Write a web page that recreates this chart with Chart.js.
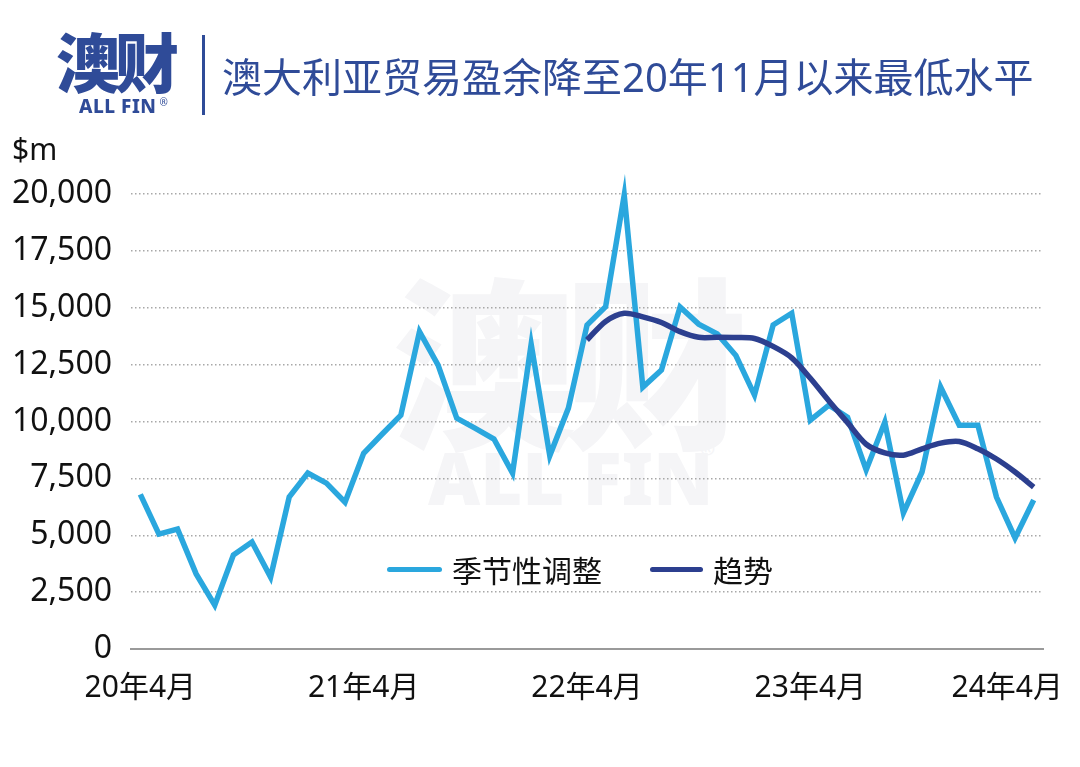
<!DOCTYPE html>
<html>
<head>
<meta charset="utf-8">
<script src="https://cdn.jsdelivr.net/npm/chart.js@4"></script>
<style>
  html, body { margin: 0; padding: 0; background: #fff; }
  body { width: 1080px; height: 767px; position: relative; overflow: hidden;
         font-family: "Noto Sans", "Noto Sans CJK SC", sans-serif; }
  .wm { position: absolute; color: #f5f5f7; font-weight: 900; font-family: "Noto Sans CJK SC", sans-serif; }
  #chartBox { position: absolute; left: 0; top: 0; width: 1080px; height: 767px; }
  .logo { position: absolute; left: 56px; top: 24px; color: #2f4b98; font-family: "Noto Sans CJK SC", sans-serif;
          font-weight: 900; font-size: 64px; line-height: 70px; letter-spacing: -5px; }
  .logo-sub { position: absolute; left: 79px; top: 93px; color: #2f4b98; font-weight: 800; font-size: 19px; letter-spacing: 0.5px; }
  .logo-sub sup { font-size: 10px; font-weight: 400; vertical-align: 7px; margin-left: 3px; }
  .divider { position: absolute; left: 202px; top: 35px; width: 3px; height: 80px; background: #2f4b98; }
  .title { position: absolute; left: 222px; top: 52px; color: #2f4b98; font-size: 40px; line-height: 50px;
           font-family: "Noto Sans", "Noto Sans CJK SC", sans-serif; white-space: nowrap; }
  .unit { position: absolute; left: 12px; top: 128px; font-size: 30px; color: #111; }
  .legend { position: absolute; top: 549px; font-size: 30px; color: #111; line-height: 40px;
            font-family: "Noto Sans CJK SC", sans-serif; white-space: nowrap; }
  .legend i { position: absolute; top: 18px; height: 5px; border-radius: 3px; }
</style>
</head>
<body>
<div class="wm" style="left:392px; top:222px; font-size:184px; letter-spacing:-12px;">澳财</div>
<div class="wm" style="left:428px; top:428px; font-size:72px; font-family:'Noto Sans',sans-serif;">ALL FIN</div>
<div class="wm" style="left:700px; top:430px; font-size:32px; font-weight:400;">®</div>

<div id="chartBox"><canvas id="chart"></canvas></div>

<div class="logo">澳财</div>
<div class="logo-sub">ALL FIN<sup>®</sup></div>
<div class="divider"></div>
<div class="title">澳大利亚贸易盈余降至20年11月以来最低水平</div>
<div class="unit">$m</div>

<div class="legend" style="left:387px;"><i style="left:0; width:55px; background:#2aa7de;"></i><span style="margin-left:65px;">季节性调整</span></div>
<div class="legend" style="left:650px;"><i style="left:0; width:53px; background:#2c3f8f;"></i><span style="margin-left:63px;">趋势</span></div>

<script>
// 2020年4月 至 2024年4月，按月
const months = [
  "20年4月", "20年5月", "20年6月", "20年7月", "20年8月", "20年9月", "20年10月", "20年11月", "20年12月",
  "21年1月", "21年2月", "21年3月", "21年4月", "21年5月", "21年6月", "21年7月", "21年8月", "21年9月",
  "21年10月", "21年11月", "21年12月", "22年1月", "22年2月", "22年3月", "22年4月", "22年5月", "22年6月",
  "22年7月", "22年8月", "22年9月", "22年10月", "22年11月", "22年12月", "23年1月", "23年2月", "23年3月",
  "23年4月", "23年5月", "23年6月", "23年7月", "23年8月", "23年9月", "23年10月", "23年11月", "23年12月",
  "24年1月", "24年2月", "24年3月", "24年4月"
];

// 季节性调整 ($m)
const seasonal = [
  6800, 5050, 5270, 3300, 1930, 4130, 4700, 3160, 6680,
  7730, 7290, 6450, 8600, 9450, 10280, 13950, 12480, 10150,
  9700, 9230, 7730, 13400, 8500, 10590, 14240, 15050, 19950,
  11510, 12260, 15030, 14280, 13850, 12900, 11160, 14240, 14760,
  10060, 10720, 10190, 7870, 9970, 5980, 7780, 11510, 9840,
  9840, 6680, 4880, 6550
];

// 趋势 ($m)，22年4月起
const trend = [
  null, null, null, null, null, null, null, null, null,
  null, null, null, null, null, null, null, null, null,
  null, null, null, null, null, null, 13580, 14400, 14760,
  14600, 14350, 13950, 13700, 13700, 13690, 13650, 13300, 12800,
  11900, 10900, 9950, 9000, 8620, 8520, 8800, 9050, 9120,
  8800, 8350, 7780, 7120
];

const xTickLabels = ["20年4月", "21年4月", "22年4月", "23年4月", "24年4月"];
const yTicks = [0, 2500, 5000, 7500, 10000, 12500, 15000, 17500, 20000];

// x 轴标签自己画，避免最后一个标签把图区挤窄
const xLabelPlugin = {
  id: "xLabels",
  afterDraw(chart) {
    const { ctx } = chart;
    const xs = chart.scales.x;
    ctx.save();
    ctx.font = '30px "Noto Sans", "Noto Sans CJK SC", sans-serif';
    ctx.fillStyle = "#111";
    ctx.textBaseline = "middle";
    ctx.textAlign = "center";
    xTickLabels.forEach((lab) => {
      const idx = months.indexOf(lab);
      let x = xs.getPixelForValue(idx);
      const w = ctx.measureText(lab).width;
      if (x + w / 2 > 1063) x = 1063 - w / 2;
      ctx.fillText(lab, x, 688);
    });
    ctx.restore();
  },
};

new Chart(document.getElementById("chart"), {
  type: "line",
  data: {
    labels: months,
    datasets: [
      {
        label: "趋势",
        data: trend,
        borderColor: "#2c3f8f",
        borderWidth: 5.5,
        pointRadius: 0,
        tension: 0.3,
        clip: false,
        order: 0,
      },
      {
        label: "季节性调整",
        data: seasonal,
        borderColor: "#2aa7de",
        borderWidth: 5.5,
        pointRadius: 0,
        tension: 0,
        clip: false,
        order: 1,
      },
    ],
  },
  options: {
    responsive: true,
    maintainAspectRatio: false,
    animation: false,
    layout: { padding: { top: 194, right: 37, bottom: 118, left: 0 } },
    plugins: { legend: { display: false }, tooltip: { enabled: false } },
    scales: {
      x: {
        offset: true,
        grid: { display: false },
        border: { display: true, color: "#9a9a9a", width: 2 },
        ticks: { display: false },
        afterFit(scale) { scale.height = 0; },
      },
      y: {
        min: 0,
        max: 20000,
        afterBuildTicks(scale) { scale.ticks = yTicks.map((v) => ({ value: v })); },
        afterFit(scale) { scale.width = 131; },
        grid: { color: "#a8a8a8", lineWidth: 1.5, drawTicks: false },
        border: { display: false, dash: [1.5, 2.5] },
        ticks: {
          padding: 19,
          color: "#111",
          font: { size: 32, family: '"Noto Sans", sans-serif' },
          callback(v) { return v.toLocaleString("en-US"); },
        },
      },
    },
  },
  plugins: [xLabelPlugin],
});
</script>
</body>
</html>
